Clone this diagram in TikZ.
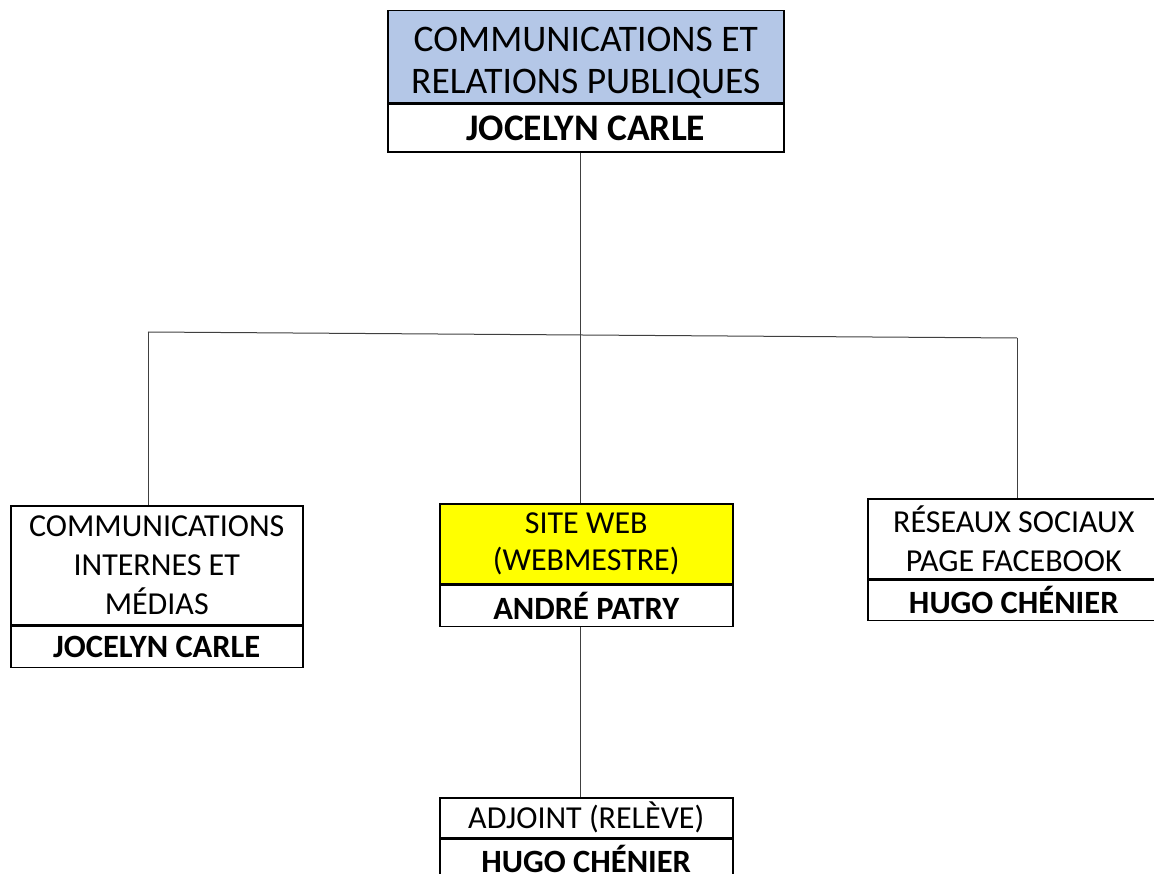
\documentclass[tikz,border=0pt]{standalone}
\usepackage{fontspec}
\setmainfont{Carlito}
\usetikzlibrary{positioning, calc}
\definecolor{headBlue}{RGB}{180, 199, 231}
\definecolor{webYellow}{RGB}{255, 255, 0}
\definecolor{linkGray}{RGB}{64, 64, 64}

\begin{document}
\begin{tikzpicture}[x=1pt, y=-1pt,
    titlebox/.style={draw, line width=1.5pt, anchor=north west, inner sep=0pt,
        align=center, font=\fontsize{32}{39}\selectfont},
    namebox/.style={draw, line width=1.5pt, anchor=north, inner sep=0pt,
        font=\fontsize{32.5}{36}\selectfont\bfseries},
    link/.style={linkGray, line width=1pt}]
    \useasboundingbox (0,0) rectangle (1154,874);
    \coordinate (barL) at (148,332);
    \coordinate (barR) at (1017,338);
    \coordinate (spine) at (580,335);

    % Top box
    \node[titlebox, fill=headBlue, minimum width=396pt, minimum height=92pt,
        font=\fontsize{37.5}{42}\selectfont] (comm) at (387,10) {\rule{0pt}{36pt}COMMUNICATIONS ET\\RELATIONS PUBLIQUES};
    \node[namebox, minimum width=396pt, minimum height=48pt,
        font=\fontsize{37.5}{40}\selectfont\bfseries] (commName) at (comm.south) {JOCELYN CARLE};

    % Second row
    \node[titlebox, minimum width=292pt, minimum height=119pt] (media) at (10,505) {COMMUNICATIONS\\INTERNES ET\\MÉDIAS};
    \node[namebox, minimum width=292pt, minimum height=41pt] (mediaName) at (media.south) {JOCELYN CARLE};

    \node[titlebox, fill=webYellow, minimum width=293pt, minimum height=80pt,
        font=\fontsize{32}{37}\selectfont] (web) at (439,503) {SITE WEB\\(WEBMESTRE)};
    \node[namebox, minimum width=293pt, minimum height=41pt] (webName) at (web.south) {ANDRÉ PATRY};

    \node[titlebox, minimum width=292pt, minimum height=80pt] (social) at (867,498) {RÉSEAUX SOCIAUX\\PAGE FACEBOOK};
    \node[namebox, minimum width=292pt, minimum height=40pt] (socialName) at (social.south) {HUGO CHÉNIER};

    % Bottom box
    \node[titlebox, minimum width=293pt, minimum height=40pt] (adjoint) at (439,797) {ADJOINT (RELÈVE)};
    \node[namebox, minimum width=293pt, minimum height=39pt] (adjointName) at (adjoint.south) {HUGO CHÉNIER};

    % Links
    \draw[link] (commName.south -| spine) -- (web.north -| spine);
    \draw[link] (barL) -- (barR);
    \draw[link] (barL) -- (barL |- media.north);
    \draw[link] (barR) -- (barR |- social.north);
    \draw[link] (webName.south -| spine) -- (adjoint.north -| spine);
\end{tikzpicture}
\end{document}
